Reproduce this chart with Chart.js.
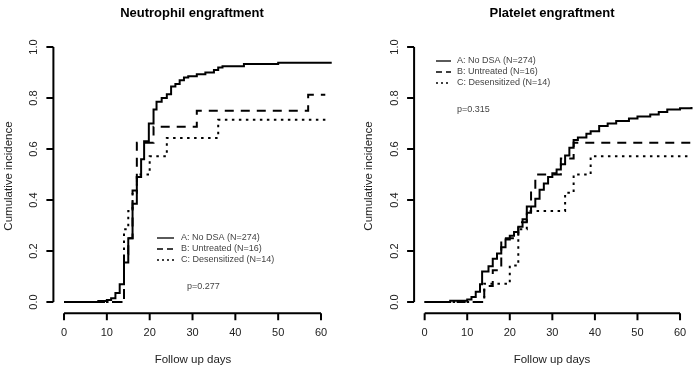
<!DOCTYPE html>
<html>
<head>
<meta charset="utf-8">
<script src="https://cdn.jsdelivr.net/npm/chart.js@4.4.0/dist/chart.umd.min.js"></script>
<style>
  html, body { margin: 0; padding: 0; background: #fff; }
  #wrap { position: relative; width: 700px; height: 372px; }
  #wrap canvas { position: absolute; top: 0; }
</style>
</head>
<body>
<div id="wrap">
  <canvas id="neutChart" width="350" height="372" style="left:0"></canvas>
  <canvas id="platChart" width="350" height="372" style="left:350px"></canvas>
</div>
<script>
// ── Data ─────────────────────────────────────────────────────────────────────
const xTicks = [0, 10, 20, 30, 40, 50, 60];
const yTicks = [0, 0.2, 0.4, 0.6, 0.8, 1.0];
const groupLabels = ["A: No DSA (N=274)", "B: Untreated (N=16)", "C: Desensitized (N=14)"];

// Neutrophil engraftment
const neutDaysA = [0, 8, 10, 11, 12, 13, 14, 15, 16, 17, 18, 18.7, 19.8, 20.9, 21.6, 22.8, 24, 25, 26, 27, 28, 29, 31, 33, 35, 36, 37, 42, 50, 62.5];
const neutIncA = [0, 0.004, 0.008, 0.015, 0.035, 0.07, 0.155, 0.25, 0.385, 0.49, 0.56, 0.63, 0.70, 0.755, 0.785, 0.80, 0.815, 0.845, 0.855, 0.87, 0.88, 0.885, 0.893, 0.90, 0.91, 0.92, 0.925, 0.933, 0.938, 0.938];
const neutDaysB = [0, 14, 15, 16, 17, 20.9, 31, 57, 61];
const neutIncB = [0, 0.1875, 0.25, 0.4375, 0.625, 0.6875, 0.75, 0.8125, 0.8125];
const neutDaysC = [0, 14, 15, 16, 17, 20, 24, 36, 61.7];
const neutIncC = [0, 0.2857, 0.3571, 0.4286, 0.5, 0.5714, 0.6429, 0.7143, 0.7143];

// Platelet engraftment
const platDaysA = [0, 6, 10, 11, 12, 13, 13.5, 15, 16, 17, 18, 19, 20, 21, 22, 23, 24, 25, 26, 27, 28, 29, 30, 31, 32, 33, 34, 35, 36, 38, 39, 41, 43, 45, 48, 50, 53, 55, 57, 60, 62.7];
const platIncA = [0, 0.005, 0.01, 0.02, 0.04, 0.07, 0.12, 0.14, 0.17, 0.19, 0.215, 0.245, 0.26, 0.275, 0.295, 0.325, 0.35, 0.375, 0.405, 0.44, 0.465, 0.49, 0.505, 0.52, 0.54, 0.575, 0.605, 0.635, 0.645, 0.66, 0.67, 0.69, 0.70, 0.71, 0.72, 0.727, 0.735, 0.745, 0.755, 0.76, 0.765];
const platDaysB = [0, 14, 16, 18, 22, 24, 25, 26, 32, 35, 62.7];
const platIncB = [0, 0.0625, 0.125, 0.25, 0.3125, 0.375, 0.4375, 0.5, 0.5625, 0.625, 0.625];
const platDaysC = [0, 14, 20, 22, 24, 33, 35, 39, 62.3];
const platIncC = [0, 0.0714, 0.1429, 0.2857, 0.3571, 0.4286, 0.5, 0.5714, 0.5714];

// ── Styling ──────────────────────────────────────────────────────────────────
const FONT = "'Liberation Sans', Arial, sans-serif";
const dashes = [[], [9, 7], [2.5, 4.5]];

const toPoints = (days, inc) => days.map((d, i) => ({ x: d, y: inc[i] }));

function buildDatasets(series) {
  return series.map((s, i) => ({
    label: groupLabels[i],
    data: toPoints(s[0], s[1]),
    borderColor: "#000",
    borderWidth: 2,
    borderDash: dashes[i],
    borderCapStyle: "butt",
    pointRadius: 0,
    stepped: true,
    fill: false,
  }));
}

// R-style detached axes, titles, legend and p-value
const rPlot = {
  id: "rPlot",
  afterDraw(chart, args, o) {
    const { ctx, chartArea, scales: { x, y } } = chart;
    ctx.save();
    ctx.strokeStyle = "#000";
    ctx.lineWidth = 2;
    ctx.setLineDash([]);

    // x axis
    const yb = chartArea.bottom + 1;
    ctx.beginPath();
    ctx.moveTo(x.getPixelForValue(xTicks[0]), yb);
    ctx.lineTo(x.getPixelForValue(xTicks[xTicks.length - 1]), yb);
    xTicks.forEach((t) => {
      const px = x.getPixelForValue(t);
      ctx.moveTo(px, yb);
      ctx.lineTo(px, yb + 7);
    });
    // y axis
    const xl = chartArea.left;
    ctx.moveTo(xl, y.getPixelForValue(yTicks[0]));
    ctx.lineTo(xl, y.getPixelForValue(yTicks[yTicks.length - 1]));
    yTicks.forEach((t) => {
      const py = y.getPixelForValue(t);
      ctx.moveTo(xl, py);
      ctx.lineTo(xl - 7, py);
    });
    ctx.stroke();

    // tick labels
    ctx.fillStyle = "#222";
    ctx.font = `11px ${FONT}`;
    ctx.textAlign = "center";
    ctx.textBaseline = "middle";
    xTicks.forEach((t) => ctx.fillText(String(t), x.getPixelForValue(t), yb + 20));
    yTicks.forEach((t) => {
      ctx.save();
      ctx.translate(xl - 19, y.getPixelForValue(t));
      ctx.rotate(-Math.PI / 2);
      ctx.fillText(t.toFixed(1), 0, 0);
      ctx.restore();
    });

    // axis titles
    ctx.font = `11.5px ${FONT}`;
    ctx.fillText("Follow up days", o.xLabelX, 360);
    ctx.save();
    ctx.translate(o.yLabelX, 176);
    ctx.rotate(-Math.PI / 2);
    ctx.fillText("Cumulative incidence", 0, 0);
    ctx.restore();

    // main title
    ctx.fillStyle = "#000";
    ctx.font = `bold 13px ${FONT}`;
    ctx.fillText(o.title, o.titleX, 13);

    // legend
    ctx.font = `9px ${FONT}`;
    ctx.textAlign = "left";
    ctx.fillStyle = "#444";
    ctx.lineWidth = 1.3;
    groupLabels.forEach((lab, i) => {
      const ry = o.legY + i * 11;
      ctx.setLineDash(i === 0 ? [] : i === 1 ? [6, 4] : [2, 3]);
      ctx.strokeStyle = "#000";
      ctx.beginPath();
      ctx.moveTo(o.legX, ry);
      ctx.lineTo(o.legX + o.legLen, ry);
      ctx.stroke();
      ctx.fillText(lab, o.legTextX, ry);
    });
    ctx.fillText(o.pText, o.pX, o.pY);
    ctx.restore();
  },
};

function makeChart(id, series, padding, labels) {
  new Chart(document.getElementById(id), {
    type: "line",
    data: { datasets: buildDatasets(series) },
    options: {
      responsive: false,
      animation: false,
      layout: { padding },
      plugins: {
        legend: { display: false },
        tooltip: { enabled: false },
        rPlot: labels,
      },
      scales: {
        x: { type: "linear", min: -2.48, max: 64.48, display: false },
        y: { type: "linear", min: -0.04, max: 1.04, display: false },
      },
    },
    plugins: [rPlot],
  });
}

makeChart(
  "neutChart",
  [[neutDaysA, neutIncA], [neutDaysB, neutIncB], [neutDaysC, neutIncC]],
  { left: 53.4, right: 9.8, top: 36.8, bottom: 59.8 },
  {
    title: "Neutrophil engraftment", titleX: 192, xLabelX: 193, yLabelX: 9,
    legX: 157, legLen: 17, legTextX: 181, legY: 238,
    pText: "p=0.277", pX: 187, pY: 287,
  }
);

makeChart(
  "platChart",
  [[platDaysA, platIncA], [platDaysB, platIncB], [platDaysC, platIncC]],
  { left: 64.1, right: 0.9, top: 36.8, bottom: 59.8 },
  {
    title: "Platelet engraftment", titleX: 202, xLabelX: 202, yLabelX: 19,
    legX: 86, legLen: 15, legTextX: 107, legY: 61,
    pText: "p=0.315", pX: 107, pY: 110,
  }
);
</script>
</body>
</html>
